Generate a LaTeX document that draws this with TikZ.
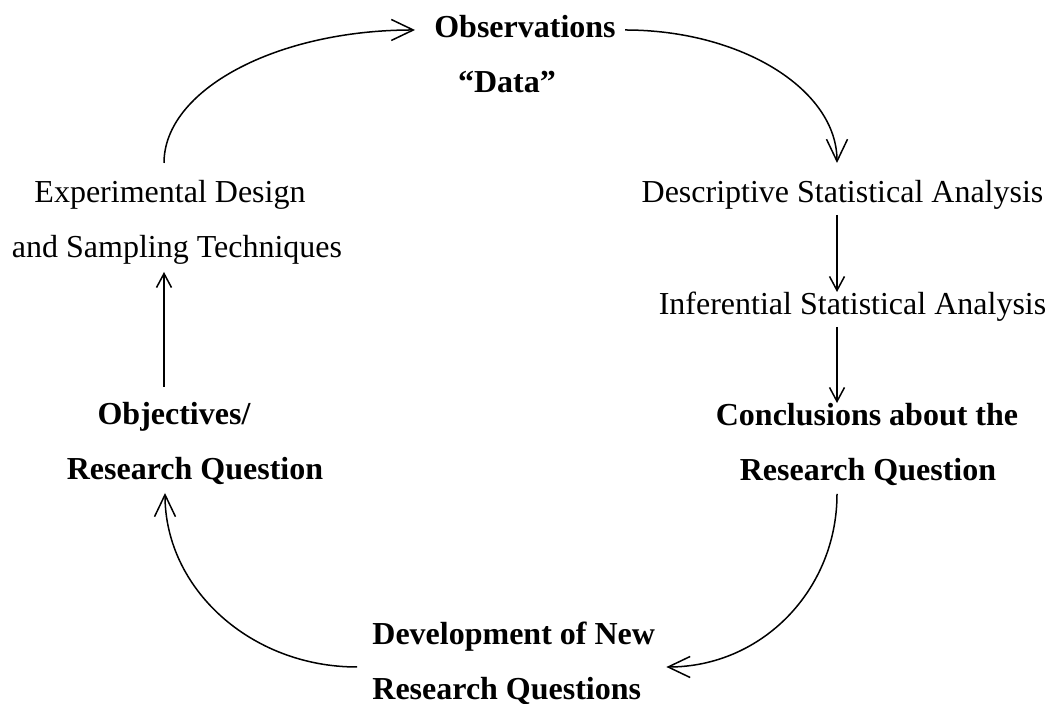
\documentclass[tikz,border=0pt]{standalone}
\usepackage{fontspec}
\setmainfont{Liberation Serif}
\usetikzlibrary{arrows.meta}

\begin{document}
\begin{tikzpicture}
 [x=0.5pt, y=0.5pt,
  post/.style={-{Straight Barb[length=7pt,width=7.5pt]}, line width=0.75pt},
  bendpost/.style={-{Straight Barb[length=11pt,width=10.5pt]}, line width=0.75pt},
  stage/.style={inner sep=0pt, anchor=base, font=\fontsize{16}{19}\selectfont},
  keystage/.style={stage, font=\fontsize{16}{19}\selectfont\bfseries}]
 \useasboundingbox (0,0) rectangle (1048,704);

 % top
 \node[keystage] (obs)     at (525,666) {Observations};
 \node[keystage] (data)    at (507,611) {“Data”};
 % left column
 \node[stage]    (design1) at (170,501) {Experimental Design};
 \node[stage]    (design2) at (177,446) {and Sampling Techniques};
 \node[keystage] (obj1)    at (174,279) {Objectives/};
 \node[keystage] (obj2)    at (195,224) {Research Question};
 % right column
 \node[stage]    (desc)    at (842.5,501) {Descriptive Statistical Analysis};
 \node[stage]    (infer)   at (852.5,389) {Inferential Statistical Analysis};
 \node[keystage] (concl1)  at (867,278) {Conclusions about the};
 \node[keystage] (concl2)  at (868,223) {Research Question};
 % bottom
 \node[keystage, anchor=base west] (newq1) at (372,59) {Development of New};
 \node[keystage, anchor=base west] (newq2) at (372,4)  {Research Questions};

 \path ([shift={(-6,40)}]design1.base)
         edge [bendpost, out=90, in=180, out distance=36.5pt, in distance=69.5pt]
              ([shift={(-110,8)}]obs.base)
       ([shift={(100,8)}]obs.base)
         edge [bendpost, out=0, in=90, out distance=58.5pt, in distance=36.5pt]
              ([shift={(-5.5,40)}]desc.base)
       ([shift={(-5.5,-12)}]desc.base)
         edge [post] ([shift={(-15.5,23)}]infer.base)
       ([shift={(-15.5,-12)}]infer.base)
         edge [post] ([shift={(-30,23)}]concl1.base)
       ([shift={(-31,-13)}]concl2.base)
         edge [bendpost, out=-90, in=0, out distance=47.75pt, in distance=48pt]
              ([shift={(11,-22)}]newq1.base east)
       ([shift={(-15,-22)}]newq1.base west)
         edge [bendpost, out=180, in=-90, out distance=53pt, in distance=48pt]
              ([shift={(-30,-13)}]obj2.base)
       ([shift={(-10,38)}]obj1.base)
         edge [post] ([shift={(-13,-14)}]design2.base);
\end{tikzpicture}
\end{document}
